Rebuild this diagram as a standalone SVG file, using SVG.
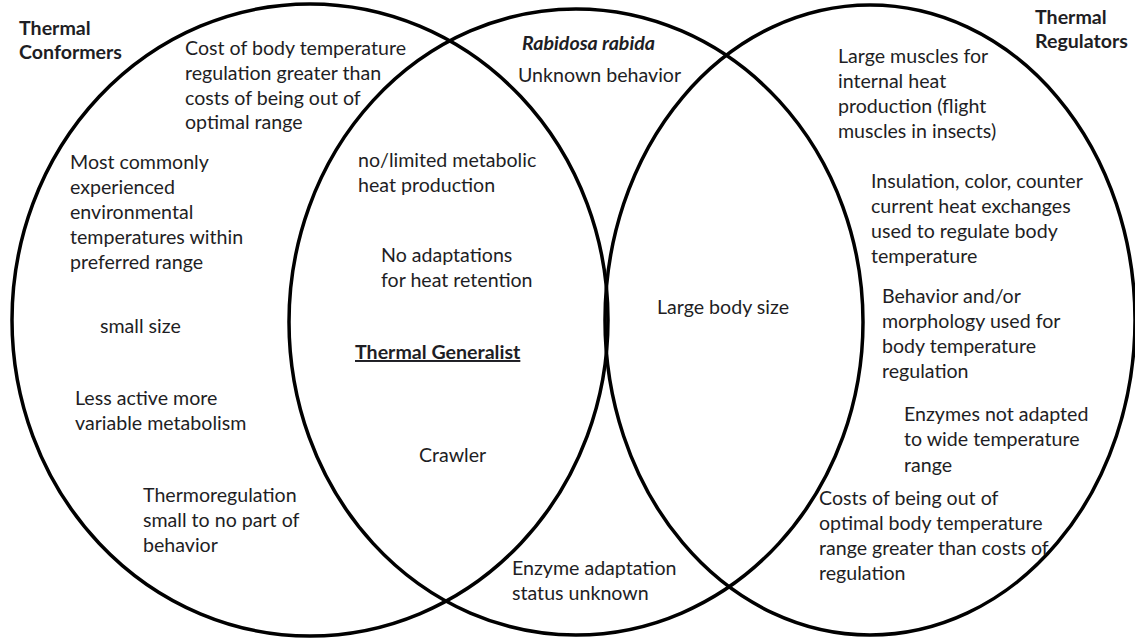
<svg xmlns="http://www.w3.org/2000/svg" width="1135" height="638" viewBox="0 0 1135 638">
  <style>
    .ring { fill: none; stroke: #000; stroke-width: 3.5; }
    text { font-family: Lato, "Liberation Sans", sans-serif; font-size: 19.6px; fill: #1e1e24; }
    .head { font-weight: bold; }
    .species { font-weight: bold; font-style: italic; }
    .title { font-weight: bold; text-decoration: underline; }
  </style>
  <rect width="1135" height="638" fill="#fff"/>

  <!-- the three overlapping sets -->
  <g id="set-conformers-ring"><ellipse class="ring" cx="310" cy="320" rx="298" ry="316"/></g>
  <g id="set-generalist-ring"><ellipse class="ring" cx="576" cy="322" rx="287" ry="313"/></g>
  <g id="set-regulators-ring"><ellipse class="ring" cx="870" cy="320" rx="265" ry="315"/></g>

  <g transform="translate(0,1)">
  <!-- Thermal Conformers -->
  <g id="conformers">
    <text class="head" x="19" y="34">Thermal</text>
    <text class="head" x="19" y="58">Conformers</text>
    <text x="185" y="54">Cost of body temperature</text>
    <text x="185" y="79">regulation greater than</text>
    <text x="185" y="104">costs of being out of</text>
    <text x="185" y="128">optimal range</text>
    <text x="70" y="168">Most commonly</text>
    <text x="70" y="193">experienced</text>
    <text x="70" y="218">environmental</text>
    <text x="70" y="243">temperatures within</text>
    <text x="70" y="268">preferred range</text>
    <text x="100" y="332">small size</text>
    <text x="75" y="404">Less active more</text>
    <text x="75" y="429">variable metabolism</text>
    <text x="143" y="501">Thermoregulation</text>
    <text x="143" y="526">small to no part of</text>
    <text x="143" y="551">behavior</text>
  </g>

  <!-- Thermal Generalist -->
  <g id="generalist">
    <text class="species" x="522" y="49">Rabidosa rabida</text>
    <text x="518" y="81">Unknown behavior</text>
    <text x="358" y="166">no/limited metabolic</text>
    <text x="358" y="191">heat production</text>
    <text x="381" y="261">No adaptations</text>
    <text x="381" y="286">for heat retention</text>
    <text class="title" x="355" y="358">Thermal Generalist</text>
    <text x="419" y="461">Crawler</text>
    <text x="512" y="574">Enzyme adaptation</text>
    <text x="512" y="599">status unknown</text>
  </g>

  <!-- shared by generalist and regulators -->
  <g id="shared-size">
    <text x="657" y="313">Large body size</text>
  </g>

  <!-- Thermal Regulators -->
  <g id="regulators">
    <text class="head" x="1035" y="23">Thermal</text>
    <text class="head" x="1035" y="47">Regulators</text>
    <text x="838" y="62">Large muscles for</text>
    <text x="838" y="87">internal heat</text>
    <text x="838" y="112">production (flight</text>
    <text x="838" y="137">muscles in insects)</text>
    <text x="871" y="187">Insulation, color, counter</text>
    <text x="871" y="212">current heat exchanges</text>
    <text x="871" y="237">used to regulate body</text>
    <text x="871" y="262">temperature</text>
    <text x="882" y="302">Behavior and/or</text>
    <text x="882" y="327">morphology used for</text>
    <text x="882" y="352">body temperature</text>
    <text x="882" y="377">regulation</text>
    <text x="904" y="420">Enzymes not adapted</text>
    <text x="904" y="445">to wide temperature</text>
    <text x="904" y="471">range</text>
    <text x="819" y="504">Costs of being out of</text>
    <text x="819" y="529">optimal body temperature</text>
    <text x="819" y="554">range greater than costs of</text>
    <text x="819" y="579">regulation</text>
  </g>
  </g>
</svg>
